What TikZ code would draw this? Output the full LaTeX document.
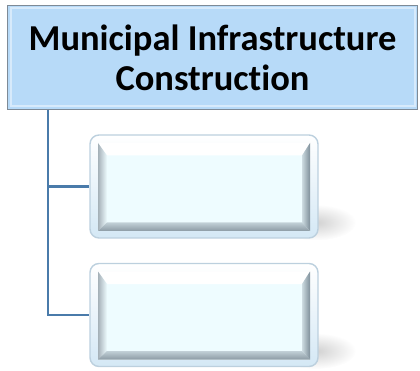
\documentclass[tikz,border=0pt]{standalone}
\usepackage{fontspec}
\setmainfont[RawFeature=-liga]{Carlito}
\usetikzlibrary{positioning,fadings,backgrounds}
\definecolor{rootfill}{HTML}{B7DAF8}
\definecolor{rootline}{HTML}{7E8A96}
\definecolor{linkblue}{HTML}{4A7BAA}
\definecolor{framefill}{HTML}{D4E8F5}
\definecolor{frameline}{HTML}{BCD0DE}
\definecolor{facefill}{HTML}{EEFCFF}
\definecolor{bevelgray}{HTML}{7F8F9A}
\tikzfading[name=softspot, inner color=transparent!0, outer color=transparent!100]
\tikzset{
  rootbox/.style={rectangle, draw=rootline, line width=1.6pt, fill=rootfill,
    minimum width=410pt, minimum height=104pt, align=center,
    font=\bfseries\fontsize{36.5}{40}\selectfont},
  childbox/.style={rectangle, rounded corners=9pt, draw=frameline, line width=1.4pt,
    top color=white, bottom color=framefill, minimum width=228pt, minimum height=103pt},
  link/.style={draw=linkblue, line width=2.4pt}
}
\begin{document}
\begin{tikzpicture}[x=1pt,y=-1pt]
\useasboundingbox (0,0) rectangle (420,371);
% top box
\node[rootbox] (root) at (212.5,57.5) {Municipal Infrastructure\\Construction};
\draw[white, opacity=.45, line width=2pt] (10.5,8.5) rectangle (414.5,106.5);
% child boxes
\node[childbox] (c1) at (204,186.5) {};
\node[childbox] (c2) at (204,315) {};
\foreach \n in {c1,c2}{
  \begin{scope}[shift={(\n.center)}]
    \fill[facefill] (-106,-43.5) rectangle (106,44.5);
    \fill[white] (-106,-43.5) -- (106,-43.5) -- (98,-31) -- (-97,-31) -- cycle;
    \shade[left color=bevelgray!70, right color=facefill] (-106,-43.5) -- (-97,-31) -- (-97,36) -- (-106,44.5) -- cycle;
    \shade[left color=facefill!70!bevelgray, right color=bevelgray] (106,-43.5) -- (98,-31) -- (98,36) -- (106,44.5) -- cycle;
    \shade[top color=facefill!60!bevelgray, bottom color=bevelgray!90] (-106,44.5) -- (-97,36) -- (98,36) -- (106,44.5) -- cycle;
    \begin{scope}[on background layer]
      \fill[black, opacity=.18, path fading=softspot] (112,36) ellipse [x radius=40pt, y radius=18pt];
    \end{scope}
  \end{scope}
}
% connectors
\coordinate (trunk) at (48,110);
\draw[link] (trunk) |- (c1.west);
\draw[link] (trunk) |- (c2.west);
\end{tikzpicture}
\end{document}
